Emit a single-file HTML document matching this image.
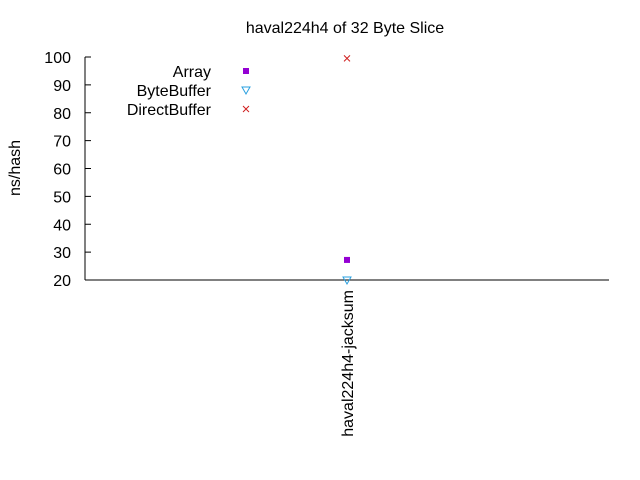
<!DOCTYPE html>
<html><head><meta charset="utf-8"><style>
body{margin:0;background:#fff}
svg{display:block;font-family:"Liberation Sans",sans-serif;font-size:16px}
</style></head><body>
<svg width="640" height="480">
<g id="root"></g>
</svg>
<script>
const categories=["haval224h4-jacksum"];
const seriesNames=["Array","ByteBuffer","DirectBuffer"];
const arrayVals=[27.2];
const byteBufferVals=[20.0];
const directBufferVals=[99.5];
const yTicks=[20,30,40,50,60,70,80,90,100];
const NS="http://www.w3.org/2000/svg";
const root=document.getElementById('root');
const x0=85,x1=609,y0=280,y1=57,ymin=20,ymax=100;
function ys(v){return y0-(v-ymin)/(ymax-ymin)*(y0-y1);}
function xs(i){return x0+(i+0.5)*(x1-x0)/categories.length;}
function mk(t,a,txt){const e=document.createElementNS(NS,t);for(const k in a)e.setAttribute(k,a[k]);if(txt!==undefined)e.textContent=txt;root.appendChild(e);return e;}
let e;
e=mk('text',{x:345,y:33,'text-anchor':'middle'},'haval224h4 of 32 Byte Slice');


e=mk('text',{x:20,y:168,'text-anchor':'middle',transform:'rotate(-90 20 168)'},'ns/hash');


e=mk('line',{x1:x0,y1:y1,x2:x0,y2:y0,stroke:'#000'});


e=mk('line',{x1:x0,y1:y0,x2:x1,y2:y0,stroke:'#000'});


yTicks.forEach(v=>{
 const y=ys(v);
 let t=mk('line',{x1:x0,y1:y,x2:x0+6,y2:y,stroke:'#000'});
 
 
 t=mk('text',{x:71,y:y+6,'text-anchor':'end'},String(v));
 
 
});
categories.forEach((c,i)=>{
 const x=xs(i);
 let t=mk('text',{x:x+6,y:290,'text-anchor':'end',transform:`rotate(-90 ${x+6} 290)`},c);
 
 
});
function sq(x,y,name){const r=mk('rect',{x:x-3,y:y-3,width:6,height:6,fill:'#9400d3'});}
function tri(x,y,name){const r=mk('path',{d:`M${x-4} ${y-3}L${x+4} ${y-3}L${x} ${y+4}Z`,fill:'none',stroke:'#2aa0e0','stroke-width':1});}
function cross(x,y,name){const r=mk('path',{d:`M${x-3} ${y-3}L${x+3} ${y+3}M${x-3} ${y+3}L${x+3} ${y-3}`,stroke:'#d02020','stroke-width':1});}
categories.forEach((c,i)=>{
 const x=xs(i);
 sq(x,ys(arrayVals[i]),'point-array');
 tri(x,ys(byteBufferVals[i]),'point-bytebuffer');
 cross(x,ys(directBufferVals[i]),'point-directbuffer');
});
const ly=[71,90,109];
seriesNames.forEach((n,k)=>{
 let t=mk('text',{x:211,y:ly[k]+6,'text-anchor':'end'},n);
 
 
});
sq(246,ly[0],'legend-marker-array');
tri(246,ly[1],'legend-marker-bytebuffer');
cross(246,ly[2],'legend-marker-directbuffer');
</script>
</body></html>
